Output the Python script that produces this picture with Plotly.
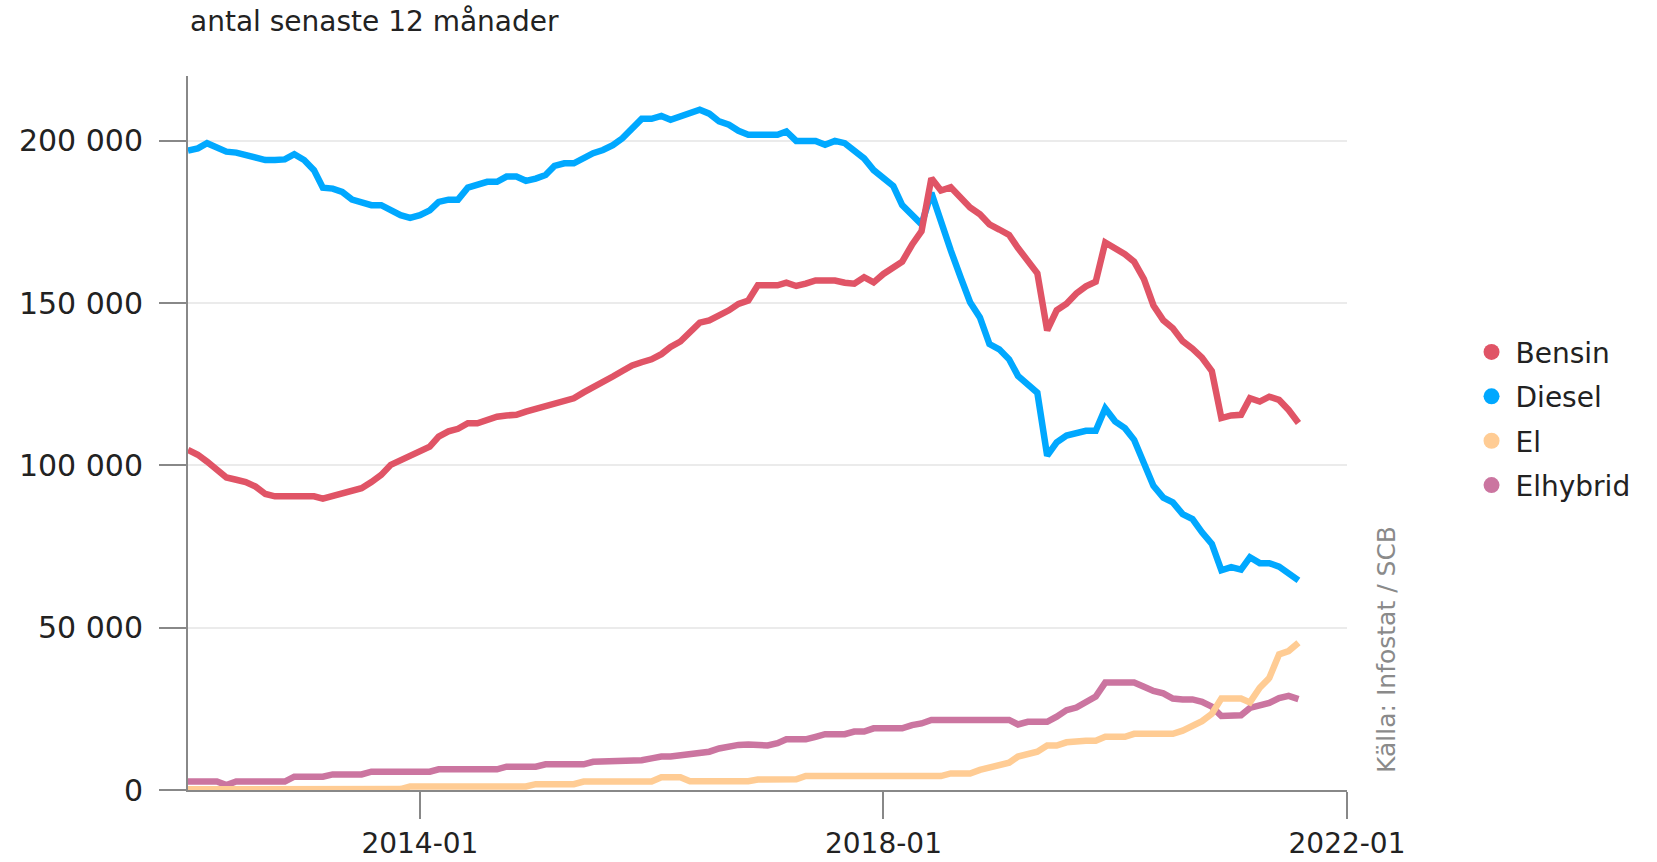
import plotly.graph_objects as go
import pandas as pd

months = pd.date_range("2012-01-01", periods=116, freq="MS").strftime("%Y-%m-%d").tolist()

bensin = [
    104800, 103300, 101200, 98400, 96300, 95600, 94900, 93500, 91200, 90500,
    90500, 90500, 90500, 90500, 89800, 90500, 91200, 92000, 93000, 94900,
    97100, 100200, 101700, 102800, 104100, 105800, 108900, 110500, 111300, 113000,
    113000, 114000, 115000, 115400, 115600, 116600, 117400, 118100, 119200, 119900,
    120700, 122500, 124000, 125300, 127400, 129100, 130800, 131800, 132700, 134300,
    136500, 138200, 141300, 144000, 144700, 146200, 147800, 149800, 150800, 155500,
    155500, 155500, 156300, 155300, 156000, 157000, 157000, 157000, 156300, 156000,
    158000, 156400, 159000, 160700, 162800, 168000, 172200, 188500, 184700, 185700,
    182600, 179500, 177400, 174300, 172700, 171000, 167000, 163000, 159200, 141600,
    147800, 149800, 153000, 155200, 156600, 168700, 167100, 165100, 162800, 157400,
    149300, 144700, 142300, 138300, 136000, 133200, 129100, 114600, 115400, 115600,
    120700, 119700, 121200, 120200, 117100, 113100,
]

diesel = [
    197000, 197700, 199300, 197700, 196700, 196400, 195600, 194700, 194100, 194100,
    194300, 195900, 194100, 191000, 185600, 185300, 184300, 181900, 181200, 180200,
    180200, 178600, 177100, 176300, 177100, 178600, 181200, 181900, 181900, 185600,
    186400, 187400, 187400, 189000, 189000, 187700, 188400, 189500, 192300, 193100,
    193100, 194800, 196200, 197200, 198700, 200800, 203900, 206800, 206800, 207700,
    206500, 207500, 208600, 209600, 208400, 206000, 205000, 203100, 201900, 201900,
    201900, 201900, 202900, 200000, 200000, 200000, 198800, 200000, 199300, 197200,
    194600, 191000, 188400, 186100, 180200, 177100, 174300, 184000, 174500, 166300,
    158000, 150300, 145600, 137400, 135800, 132700, 127600, 125200, 122400, 103000,
    107100, 109200, 109800, 110700, 110700, 117600, 113600, 111500, 107900, 100300,
    93700, 90100, 88600, 85000, 83500, 79400, 75800, 67700, 68700, 67900,
    71700, 69900, 69900, 68800, 66600, 64600,
]

el = [
    200, 200, 200, 200, 200, 200, 200, 200, 200, 200,
    200, 200, 300, 300, 300, 300, 300, 300, 300, 300,
    300, 300, 300, 1100, 1100, 1100, 1100, 1100, 1100, 1100,
    1100, 1100, 1100, 1100, 1100, 1100, 1800, 1800, 1800, 1800,
    1800, 2600, 2600, 2600, 2600, 2600, 2600, 2600, 2600, 3900,
    3900, 3900, 2700, 2700, 2700, 2700, 2700, 2700, 2700, 3200,
    3300, 3300, 3300, 3300, 4300, 4300, 4300, 4300, 4300, 4300,
    4300, 4300, 4300, 4300, 4300, 4300, 4300, 4300, 4300, 5100,
    5100, 5100, 6200, 7000, 7600, 8400, 10300, 11100, 11800, 13700,
    13700, 14700, 15200, 15200, 15200, 16400, 16400, 16400, 17300, 17300,
    17300, 17300, 17300, 18300, 19500, 21200, 23500, 28200, 28200, 28200,
    27000, 31500, 34500, 41800, 42800, 45400,
]

elhybrid = [
    2600, 2600, 2600, 2600, 1500, 2600, 2600, 2600, 2600, 2600,
    2600, 4100, 4100, 4100, 4100, 4800, 4800, 4800, 4800, 5650,
    5650, 5650, 5650, 5650, 5650, 5650, 6370, 6370, 6370, 6370,
    6370, 6370, 6370, 7200, 7200, 7200, 7200, 7900, 7900, 7900,
    7900, 7900, 8700, 8700, 8700, 8700, 8700, 9200, 9750, 10300,
    10300, 10800, 11300, 11300, 11800, 12800, 13500, 13900, 14000, 13900,
    13700, 14400, 15600, 15600, 15600, 16400, 17200, 17200, 17200, 18000,
    18000, 19000, 19000, 19000, 19000, 20000, 20500, 21600, 21600, 21600,
    21600, 21600, 21600, 21600, 21600, 21600, 20200, 21000, 21000, 21000,
    22600, 24600, 25400, 27200, 28800, 33100, 33100, 33100, 33100, 31800,
    30500, 29800, 28200, 27900, 27900, 27200, 25700, 22800, 22800, 23000,
    25300, 26000, 26800, 28300, 29000, 28000,
]

series_names = ["Bensin", "Diesel", "El", "Elhybrid"]
series_values = [bensin, diesel, el, elhybrid]
colors = ["#E05466", "#00A8FF", "#FFCC94", "#CB75A0"]

y_tickvals = [0, 50000, 100000, 150000, 200000]
y_ticktext = ["0", "50 000", "100 000", "150 000", "200 000"]

FONT = "DejaVu Sans"

fig = go.Figure()

# draw order: El, Elhybrid under, then Diesel, Bensin on top
for name, vals, col in zip(series_names[::-1], series_values[::-1], colors[::-1]):
    fig.add_trace(go.Scatter(
        x=months, y=vals, mode="lines", name=name,
        line=dict(color=col, width=6.5),
        showlegend=False, hoverinfo="x+y+name",
    ))

for name, col in zip(series_names, colors):
    fig.add_trace(go.Scatter(
        x=[None], y=[None], mode="markers", name=name,
        legendgroup=name,
        marker=dict(color=col, size=20, symbol="circle"),
        showlegend=True,
    ))

fig.update_layout(
    width=1657, height=862,
    margin=dict(l=188, r=310, t=76, b=72, autoexpand=False),
    plot_bgcolor="white", paper_bgcolor="white",
    font=dict(family=FONT, size=28, color="#222222"),
    showlegend=True,
    legend=dict(
        x=1.104, xanchor="left", y=0.52, yanchor="middle",
        font=dict(family=FONT, size=28, color="#222222"),
        bgcolor="rgba(0,0,0,0)", traceorder="grouped",
        tracegroupgap=5,
        itemwidth=38,
    ),
    xaxis=dict(
        type="date",
        range=["2012-01-01", "2022-01-01"],
        tick0="2014-01-01", dtick="M48",
        tickformat="%Y-%m",
        ticks="outside", ticklen=27, tickwidth=2, tickcolor="#888888",
        showline=True, linecolor="#888888", linewidth=2,
        showgrid=False, zeroline=False, automargin=False,
        tickfont=dict(family=FONT, size=28, color="#222222"),
        ticklabelstandoff=0,
    ),
    yaxis=dict(
        range=[0, 220000],
        tickvals=y_tickvals, ticktext=y_ticktext,
        ticks="outside", ticklen=27, tickwidth=2, tickcolor="#888888",
        showline=True, linecolor="#888888", linewidth=2,
        showgrid=True, gridcolor="#ebebeb", gridwidth=2,
        zeroline=False, automargin=False,
        tickfont=dict(family=FONT, size=30, color="#222222"),
        ticklabelstandoff=10,
    ),
    annotations=[
        dict(
            text="antal senaste 12 månader",
            xref="paper", yref="paper", x=0, y=1.077,
            xanchor="left", yanchor="middle", showarrow=False,
            font=dict(family=FONT, size=28, color="#222222"),
        ),
        dict(
            text="Källa: Infostat / SCB",
            xref="paper", yref="paper", x=1.034, y=0.021,
            xanchor="center", yanchor="bottom", showarrow=False,
            textangle=-90,
            font=dict(family=FONT, size=25, color="#8a8a8a"),
        ),
    ],
)

fig.write_html("out.html", config={"displayModeBar": False},
               post_script="document.body.style.margin='0';")
